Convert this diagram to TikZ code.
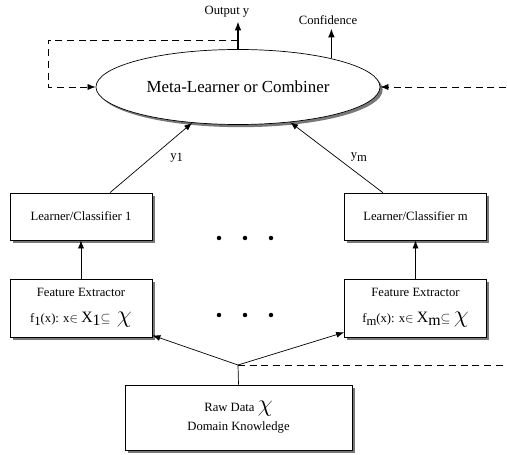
\documentclass[tikz,border=0pt]{standalone}
\usepackage{fontspec}
\setmainfont{Liberation Serif}
\usetikzlibrary{shapes.geometric, arrows.meta, positioning, calc, shadows}
\definecolor{shadowgray}{RGB}{120,120,120}

\newcommand{\lowsub}[1]{\raisebox{-0.45ex}{#1}}
\newcommand{\bigchi}{{\fontsize{20}{20}\selectfont$\chi$}}
\newcommand{\bigX}[1]{{\fontsize{13.5}{14}\selectfont X\lowsub{#1}}}

\tikzset{
  box/.style={draw, line width=0.6pt, fill=white, minimum width=4.26cm,
    drop shadow={shadow xshift=0.08cm, shadow yshift=-0.08cm, fill=shadowgray, opacity=1}},
  link/.style={line width=0.6pt, -{Latex[length=2.4mm, width=1.8mm]}},
  outlink/.style={line width=1pt, -{Latex[length=2.6mm, width=2mm]}},
  feedback/.style={line width=0.6pt, dash pattern=on 6pt off 4pt, -{Latex[length=2.4mm, width=1.8mm]}},
  plain/.style={line width=0.6pt, dash pattern=on 6pt off 4pt}
}

\begin{document}
\begin{tikzpicture}[x=0.03cm, y=-0.03cm, font=\fontsize{10.8}{13}\selectfont]
    \useasboundingbox (0,0) rectangle (507,455);

    % Combiner
    \node[ellipse, draw, line width=0.6pt, fill=white, minimum width=8.52cm, minimum height=2.25cm,
      drop shadow={shadow xshift=0.08cm, shadow yshift=-0.08cm, fill=shadowgray, opacity=1},
      font=\fontsize{14.4}{17}\selectfont] (meta) at (238,87) {Meta-Learner or Combiner};

    % Learners
    \node[box, minimum height=1.41cm] (learn1) at (81,216.5) {Learner/Classifier 1};
    \node[box, minimum height=1.41cm] (learnm) at (415.5,216.5) {Learner/Classifier m};

    % Feature extractors
    \node[box, minimum height=1.74cm, align=center] (feat1) at (81,308)
      {Feature Extractor\\[9pt] f\lowsub{1}(x): x$\in$ \bigX{1}$\subseteq$\ \ \bigchi};
    \node[box, minimum height=1.74cm, align=center] (featm) at (415.5,308)
      {Feature Extractor\\[9pt] f\lowsub{m}(x): x$\in$ \bigX{m}$\subseteq$\ \bigchi};

    % Raw data
    \node[box, minimum width=6.81cm, minimum height=1.95cm, align=center] (raw) at (238.5,417.5)
      {Raw Data \bigchi\\[3pt] Domain Knowledge};

    % Outputs
    \node (outy) at (227,12) {Output y};
    \node (conf) at (328,20) {Confidence};
    \draw[outlink] (meta.north) -- (meta.north |- outy.south);
    \draw[outlink] (meta.17.6) -- (meta.17.6 |- conf.south);

    % Feedback loops
    \coordinate (fbtop) at (238,40);
    \coordinate (fbleft) at (48,40);
    \coordinate (fbright) at (506,87);
    \draw[feedback] (fbtop) -- (fbleft) |- (meta.west);
    \draw[feedback] (fbright) -- (meta.east);

    % Learner outputs
    \draw[link] ([xshift=0.87cm]learn1.north) -- (meta.218) node[midway, right=0.45cm] {y\lowsub{1}};
    \draw[link] ([xshift=-0.98cm]learnm.north) -- (meta.326) node[midway, right=0.3cm] {y\lowsub{m}};
    \draw[link] (feat1.north) -- (learn1.south);
    \draw[link] (featm.north) -- (learnm.south);

    % Data split
    \coordinate (split) at (238,365);
    \coordinate (rawfb) at (507,365);
    \draw[line width=0.6pt] (raw.north) -- (split);
    \draw[link] (split) -- ([yshift=0.06cm]feat1.south east);
    \draw[link] (split) -- ([yshift=0.15cm]featm.south west);
    \draw[plain] (split) -- (rawfb);

    % Ellipsis dots
    \foreach \x in {219,245,271} {
      \fill (\x,238) circle (1.9pt);
      \fill (\x,315) circle (1.9pt);
    }
\end{tikzpicture}
\end{document}
